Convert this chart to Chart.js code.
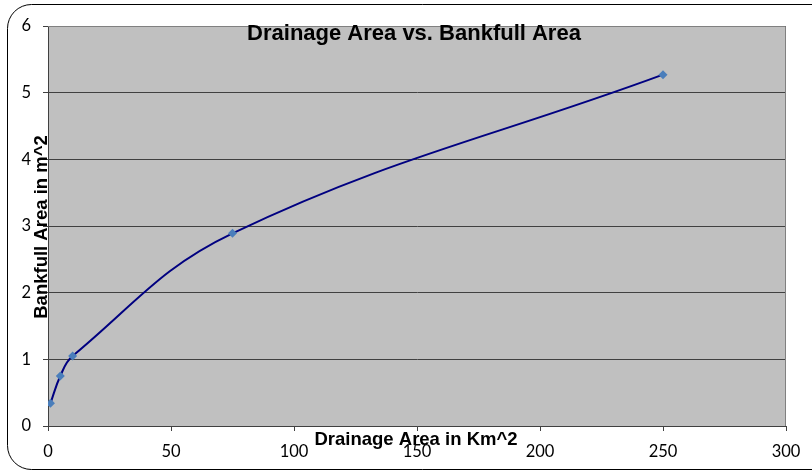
<!DOCTYPE html>
<html lang="en">
<head>
  <meta charset="UTF-8" />
  <title>Drainage Area vs. Bankfull Area</title>
  <script src="https://cdn.jsdelivr.net/npm/chart.js"></script>
  <style>
    html, body { margin: 0; padding: 0; background: #fff; }
    #wrap { width: 812px; height: 473px; position: relative; }
  </style>
</head>
<body>
<div id="wrap"><canvas id="chart"></canvas></div>
<script>
  const drainageArea = [1, 5, 10, 75, 250];       // Km^2
  const bankfullArea = [0.34, 0.75, 1.05, 2.89, 5.27]; // m^2
  const xTicks = [0, 50, 100, 150, 200, 250, 300];
  const yTicks = [0, 1, 2, 3, 4, 5, 6];

  const points = drainageArea.map((x, i) => ({ x: x, y: bankfullArea[i] }));

  // plot background, frame, outer border and the overlapping titles
  const decor = {
    id: "decor",
    beforeDraw(chart) {
      const { ctx, chartArea: a } = chart;
      ctx.save();
      ctx.fillStyle = "#c0c0c0";
      ctx.fillRect(a.left, a.top, a.right - a.left, a.bottom - a.top);
      // outer rounded border
      ctx.strokeStyle = "#000";
      ctx.lineWidth = 1;
      ctx.beginPath();
      ctx.roundRect(7.5, 4.5, 830, 465, 24);
      ctx.stroke();
      ctx.restore();
    },
    afterDatasetsDraw(chart) {
      const { ctx, chartArea: a } = chart;
      ctx.save();
      ctx.strokeStyle = "#808080";
      ctx.lineWidth = 1;
      ctx.beginPath();
      ctx.moveTo(a.left, a.top + 0.5);
      ctx.lineTo(a.right - 0.5, a.top + 0.5);
      ctx.lineTo(a.right - 0.5, a.bottom);
      ctx.stroke();
      ctx.restore();
    },
    afterDraw(chart) {
      const { ctx } = chart;
      ctx.save();
      ctx.fillStyle = "#000";
      ctx.textAlign = "center";
      ctx.textBaseline = "middle";
      ctx.font = "bold 22px 'Liberation Sans', Arial, sans-serif";
      ctx.fillText("Drainage Area vs. Bankfull Area", 414, 34);
      ctx.font = "bold 18.5px 'Liberation Sans', Arial, sans-serif";
      ctx.fillText("Drainage Area in Km^2", 416, 440);
      ctx.translate(42, 227);
      ctx.rotate(-Math.PI / 2);
      ctx.fillText("Bankfull Area in m^2", 0, 0);
      ctx.restore();
    }
  };

  new Chart(document.getElementById("chart"), {
    type: "scatter",
    data: {
      datasets: [{
        data: points,
        showLine: true,
        borderColor: "#000080",
        borderWidth: 2,
        tension: 0.4,
        pointStyle: "rectRot",
        pointRadius: 4.5,
        pointBackgroundColor: "#4a7ebb",
        pointBorderColor: "#4a7ebb",
        pointBorderWidth: 0
      }]
    },
    options: {
      responsive: true,
      maintainAspectRatio: false,
      animation: false,
      layout: { padding: { top: 26, right: 26, left: 0, bottom: 0 } },
      plugins: {
        legend: { display: false },
        tooltip: { enabled: false }
      },
      scales: {
        x: {
          type: "linear",
          min: 0,
          max: 300,
          afterBuildTicks: s => { s.ticks = xTicks.map(v => ({ value: v })); },
          afterFit: s => { s.height = 47; },
          grid: { drawOnChartArea: false, drawTicks: true, tickLength: 5, color: "#404040" },
          border: { color: "#404040", width: 1 },
          ticks: {
            color: "#000",
            padding: 11,
            maxRotation: 0,
            font: { family: "Lato, 'Open Sans', sans-serif", size: 16.5 }
          }
        },
        y: {
          min: 0,
          max: 6,
          afterBuildTicks: s => { s.ticks = yTicks.map(v => ({ value: v })); },
          afterFit: s => { s.width = 48; },
          grid: { color: "#404040", tickLength: 5, drawTicks: true },
          border: { color: "#404040", width: 1 },
          ticks: {
            color: "#000",
            padding: 12,
            font: { family: "Lato, 'Open Sans', sans-serif", size: 16.5 }
          }
        }
      }
    },
    plugins: [decor]
  });
</script>
</body>
</html>
